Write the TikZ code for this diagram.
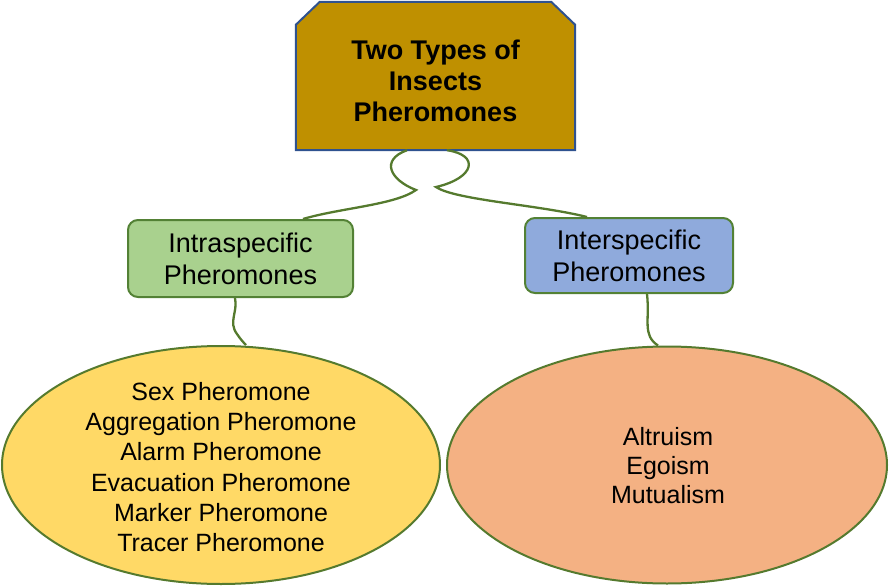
\documentclass[tikz,border=0pt]{standalone}
\usepackage{fontspec}
\setsansfont{Liberation Sans}
\usetikzlibrary{positioning,calc,shapes.geometric}
\definecolor{ptGold}{HTML}{BF9000}
\definecolor{ptNavy}{HTML}{2F528F}
\definecolor{ptGreen}{HTML}{538135}
\definecolor{ptGreenL}{HTML}{A9D18E}
\definecolor{ptBlueL}{HTML}{8FAADC}
\definecolor{ptYellow}{HTML}{FFD966}
\definecolor{ptPeach}{HTML}{F4B183}
\definecolor{ptOlive}{HTML}{557A2E}

\begin{document}
\begin{tikzpicture}[x=1pt, y=-1pt,
      font=\sffamily,
      hdr/.style={minimum width=279pt, minimum height=148pt, inner sep=0pt},
      cat/.style={draw=ptGreen, line width=2pt, rounded corners=10pt, align=center,
                  inner sep=0pt, font=\sffamily\fontsize{27}{32}\selectfont},
      oval/.style={ellipse, draw=ptOlive, line width=2pt, inner sep=0pt},
      otext/.style={align=center, font=\sffamily\fontsize{25}{30.2}\selectfont},
      wire/.style={draw=ptOlive, line width=2.3pt}
    ]
    \useasboundingbox (0,0) rectangle (889,586);
    % header
    \node[hdr] (head) at (435.5,76) {};
    \draw[fill=ptGold, draw=ptNavy, line width=2pt]
      (head.south west) -- ([yshift=-23pt]head.north west) -- ([xshift=24pt]head.north west)
      -- ([xshift=-24pt]head.north east) -- ([yshift=-23pt]head.north east)
      -- (head.south east) -- cycle;
    \node[align=center, font=\sffamily\bfseries\fontsize{27}{31}\selectfont] (headtxt)
      at ([yshift=-4.5pt]head.center) {Two Types of\\Insects\\Pheromones};

    % categories
    \node[cat, fill=ptGreenL, minimum width=225pt, minimum height=77pt] (intra) at (240.5,258.5) {Intraspecific\\Pheromones};
    \node[cat, fill=ptBlueL, minimum width=208pt, minimum height=75pt] (inter) at (629,255.5) {Interspecific\\Pheromones};

    % ovals
    \node[oval, fill=ptYellow, minimum width=438pt, minimum height=238pt] (intraOval) at (221,465) {};
    \node[oval, fill=ptPeach, minimum width=440pt, minimum height=237pt] (interOval) at (667,465) {};
    \node[otext] (intraList) at (221,467) {Sex Pheromone\\Aggregation Pheromone\\Alarm Pheromone\\Evacuation Pheromone\\Marker Pheromone\\Tracer Pheromone};
    \node[otext, font=\sffamily\fontsize{25}{29}\selectfont] (interList) at (668,466) {Altruism\\Egoism\\Mutualism};

    % wavy links
    \draw[wire] ([xshift=-28.5pt]head.south) .. controls (380,160) and (390,180) .. (416,190)
      .. controls (395,205) and (340,208) .. ([xshift=62.5pt]intra.north);
    \draw[wire] ([xshift=11.5pt]head.south) .. controls (480,155) and (475,178) .. (436,187)
      .. controls (455,200) and (540,205) .. ([xshift=-42pt]inter.north);
    \draw[wire] ([xshift=-5.5pt]intra.south) .. controls (238,312) and (228,322) .. (237,334)
      .. controls (241,340) and (244,343) .. ([xshift=25pt]intraOval.north);
    \draw[wire] ([xshift=18pt]inter.south) .. controls (650,320) and (642,335) .. ([xshift=-9pt]interOval.north);
  \end{tikzpicture}
\end{document}
